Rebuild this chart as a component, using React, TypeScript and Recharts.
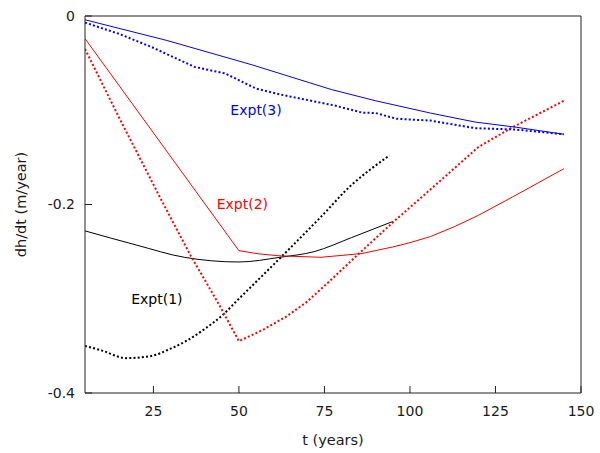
import React from 'react';
import { LineChart, Line, XAxis, YAxis, CartesianGrid, ReferenceDot } from 'recharts';

// Expt(1) - black
const expt1SolidT = [5, 20, 34, 50, 62, 72, 83, 95];
const expt1SolidV = [-0.228, -0.243, -0.256, -0.261, -0.256, -0.25, -0.235, -0.218];
const expt1DotT = [5, 10, 17, 24, 30, 35, 40, 45, 50, 62, 74, 83, 88, 94];
const expt1DotV = [-0.35, -0.355, -0.363, -0.361, -0.353, -0.344, -0.332, -0.318, -0.3, -0.257, -0.213, -0.179, -0.164, -0.148];

// Expt(2) - red
const expt2SolidT = [5, 50, 56, 62, 74, 86, 95, 100, 106, 113, 120, 130, 145];
const expt2SolidV = [-0.024, -0.249, -0.2525, -0.2545, -0.256, -0.252, -0.245, -0.2405, -0.234, -0.2235, -0.2115, -0.192, -0.162];
const expt2DotT = [5, 15, 27, 36, 44, 50, 57, 64, 70, 76, 86, 95, 106, 120, 130, 145];
const expt2DotV = [-0.035, -0.108, -0.193, -0.255, -0.305, -0.345, -0.333, -0.3185, -0.303, -0.283, -0.249, -0.219, -0.184, -0.139, -0.118, -0.09];

// Expt(3) - blue
const expt3SolidT = [5, 29, 54, 77, 90, 106, 119, 131, 145];
const expt3SolidV = [-0.004, -0.026, -0.052, -0.078, -0.09, -0.103, -0.1125, -0.118, -0.1255];
const expt3DotT = [5, 15, 24.5, 37, 46, 55, 63, 78, 86, 90, 96, 106, 119, 131, 145];
const expt3DotV = [-0.007, -0.019, -0.033, -0.054, -0.061, -0.077, -0.084, -0.095, -0.1025, -0.103, -0.109, -0.111, -0.119, -0.1205, -0.1255];

const xTicks = [25, 50, 75, 100, 125, 150];
const yTicks = [0, -0.2, -0.4];

const labelTexts = ['Expt(1)', 'Expt(2)', 'Expt(3)'];
const labelT = [26, 51, 55];
const labelV = [-0.3, -0.2, -0.1];
const labelColors = ['#000000', '#ff0000', '#0000ff'];

const toPoints = (ts: number[], vs: number[]) => ts.map((t, i) => ({ t, v: vs[i] }));

const TEXT = '#1a1a1a';
const AXIS = '#222';
const W = 600;
const H = 453;
const X_DOMAIN: [number, number] = [5, 150];
const Y_DOMAIN: [number, number] = [-0.4, 0];

// plot rectangle; margins and axis sizes are derived from it
const PLOT = { left: 85, top: 16, right: 581, bottom: 393 };
const TICK = 7; // inward tick length

const label = (v: number) => (v === 0 ? '0' : String(v));

const xTickLabel = (props: any) => {
  const { x, y, payload } = props;
  return <text x={x} y={y} dy="0.71em" textAnchor="middle" fill={TEXT} fontSize={14}>{label(payload.value)}</text>;
};
const yTickLabel = (props: any) => {
  const { x, y, payload } = props;
  return <text x={x} y={y} dy="0.355em" textAnchor="end" fill={TEXT} fontSize={14}>{label(payload.value)}</text>;
};

const series = [
  { ts: expt1SolidT, vs: expt1SolidV, color: '#000000', dotted: false, type: 'monotone' },
  { ts: expt1DotT, vs: expt1DotV, color: '#000000', dotted: true, type: 'monotone' },
  { ts: expt2SolidT, vs: expt2SolidV, color: '#ff0000', dotted: false, type: 'linear' },
  { ts: expt2DotT, vs: expt2DotV, color: '#ff0000', dotted: true, type: 'linear' },
  { ts: expt3SolidT, vs: expt3SolidV, color: '#0000ff', dotted: false, type: 'linear' },
  { ts: expt3DotT, vs: expt3DotV, color: '#0000ff', dotted: true, type: 'linear' },
];

export default function App() {
  return (
    <div style={{ position: 'absolute', left: 0, top: 0, width: W, height: H, background: '#fff', fontFamily: '"DejaVu Sans", sans-serif' }}>
      <LineChart width={W} height={H} margin={{ top: PLOT.top, right: W - PLOT.right, bottom: 0, left: 0 }}>
        {/* top and right border of the frame */}
        <CartesianGrid horizontalPoints={[PLOT.top]} verticalPoints={[PLOT.right]} stroke={AXIS} strokeOpacity={1} />
        <XAxis
          dataKey="t"
          type="number"
          domain={X_DOMAIN}
          allowDataOverflow
          ticks={xTicks}
          interval={0}
          height={H - PLOT.bottom}
          tickLine={{ stroke: AXIS }}
          tickSize={-TICK}
          tickMargin={13 + TICK}
          axisLine={{ stroke: AXIS }}
          tick={xTickLabel}
          label={{ value: 't (years)', position: 'insideBottom', offset: 8, fill: TEXT, fontSize: 14.5 }}
        />
        <YAxis
          type="number"
          domain={Y_DOMAIN}
          allowDataOverflow
          ticks={yTicks}
          interval={0}
          width={PLOT.left}
          tickLine={{ stroke: AXIS }}
          tickSize={-TICK}
          tickMargin={10 + TICK}
          axisLine={{ stroke: AXIS }}
          tick={yTickLabel}
          label={{ value: 'dh/dt (m/year)', angle: -90, position: 'insideLeft', offset: 21, fill: TEXT, fontSize: 14.5, style: { textAnchor: 'middle' } }}
        />

        {series.map((s, i) => (
          <Line
            key={i}
            data={toPoints(s.ts, s.vs)}
            dataKey="v"
            type={s.type as any}
            stroke={s.color}
            strokeWidth={s.dotted ? 2 : 1}
            strokeDasharray={s.dotted ? '2 2.2' : undefined}
            dot={false}
            activeDot={false}
            isAnimationActive={false}
          />
        ))}

        {labelTexts.map((text, i) => (
          <ReferenceDot
            key={text}
            x={labelT[i]}
            y={labelV[i]}
            r={0}
            fill="none"
            stroke="none"
            label={{ value: text, position: 'center', fill: labelColors[i], fontSize: 14 }}
          />
        ))}
      </LineChart>
    </div>
  );
}
